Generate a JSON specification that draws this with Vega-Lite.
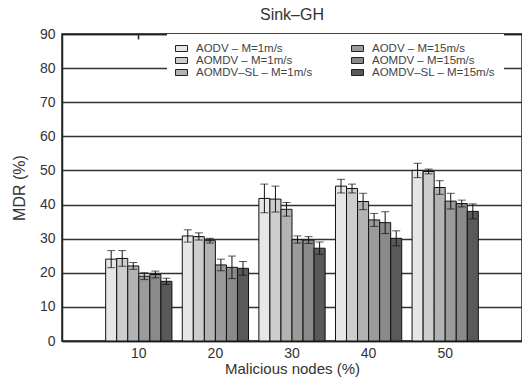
{
  "$schema": "https://vega.github.io/schema/vega-lite/v6.json",
  "width": 460,
  "height": 307,
  "autosize": {"type": "none"},
  "padding": {"left": 62, "top": 34, "right": 0, "bottom": 40},
  "title": {"text": "Sink–GH", "fontSize": 16, "font": "Liberation Sans", "fontWeight": "normal", "color": "#333", "offset": 7, "dy": 3, "anchor": "middle"},
  "config": {
    "font": "Liberation Sans",
    "view": {"stroke": "#222", "strokeWidth": 1.5},
    "axisY": {"labelOverlap": false, "grid": true, "gridColor": "#333", "gridWidth": 1.3, "domainColor": "#222", "domainWidth": 1.5, "ticks": false, "labelFontSize": 14, "labelColor": "#333", "labelPadding": 7, "titleFontSize": 16, "titleFontWeight": "normal", "titleColor": "#333", "titlePadding": 12}
  },
  "data": {"values": [
    {"nodes": "10", "series": "AODV – M=1m/s", "mdr": 24.0, "lo": 21.5, "hi": 26.5},
    {"nodes": "10", "series": "AOMDV – M=1m/s", "mdr": 24.2, "lo": 21.9, "hi": 26.5},
    {"nodes": "10", "series": "AOMDV–SL – M=1m/s", "mdr": 22.0, "lo": 21.0, "hi": 23.0},
    {"nodes": "10", "series": "AODV – M=15m/s", "mdr": 19.0, "lo": 18.0, "hi": 20.0},
    {"nodes": "10", "series": "AOMDV – M=15m/s", "mdr": 19.5, "lo": 18.5, "hi": 20.5},
    {"nodes": "10", "series": "AOMDV–SL – M=15m/s", "mdr": 17.5, "lo": 16.6, "hi": 18.4},
    {"nodes": "20", "series": "AODV – M=1m/s", "mdr": 30.8, "lo": 29.0, "hi": 32.6},
    {"nodes": "20", "series": "AOMDV – M=1m/s", "mdr": 30.6, "lo": 29.6, "hi": 31.7},
    {"nodes": "20", "series": "AOMDV–SL – M=1m/s", "mdr": 29.4, "lo": 28.7, "hi": 30.1},
    {"nodes": "20", "series": "AODV – M=15m/s", "mdr": 22.3, "lo": 20.6, "hi": 24.0},
    {"nodes": "20", "series": "AOMDV – M=15m/s", "mdr": 21.6, "lo": 18.3, "hi": 24.9},
    {"nodes": "20", "series": "AOMDV–SL – M=15m/s", "mdr": 21.3, "lo": 19.3, "hi": 23.3},
    {"nodes": "30", "series": "AODV – M=1m/s", "mdr": 41.8, "lo": 37.6, "hi": 46.0},
    {"nodes": "30", "series": "AOMDV – M=1m/s", "mdr": 41.6, "lo": 37.8, "hi": 45.4},
    {"nodes": "30", "series": "AOMDV–SL – M=1m/s", "mdr": 38.6, "lo": 36.6, "hi": 40.6},
    {"nodes": "30", "series": "AODV – M=15m/s", "mdr": 29.7, "lo": 28.7, "hi": 30.8},
    {"nodes": "30", "series": "AOMDV – M=15m/s", "mdr": 29.6, "lo": 28.6, "hi": 30.6},
    {"nodes": "30", "series": "AOMDV–SL – M=15m/s", "mdr": 27.2, "lo": 25.4, "hi": 29.0},
    {"nodes": "40", "series": "AODV – M=1m/s", "mdr": 45.4, "lo": 43.4, "hi": 47.4},
    {"nodes": "40", "series": "AOMDV – M=1m/s", "mdr": 44.7, "lo": 43.4, "hi": 46.0},
    {"nodes": "40", "series": "AOMDV–SL – M=1m/s", "mdr": 40.9, "lo": 38.5, "hi": 43.3},
    {"nodes": "40", "series": "AODV – M=15m/s", "mdr": 35.5, "lo": 33.6, "hi": 37.4},
    {"nodes": "40", "series": "AOMDV – M=15m/s", "mdr": 34.7, "lo": 31.5, "hi": 37.9},
    {"nodes": "40", "series": "AOMDV–SL – M=15m/s", "mdr": 30.1, "lo": 27.9, "hi": 32.3},
    {"nodes": "50", "series": "AODV – M=1m/s", "mdr": 50.0, "lo": 47.9, "hi": 52.1},
    {"nodes": "50", "series": "AOMDV – M=1m/s", "mdr": 49.7, "lo": 49.0, "hi": 50.4},
    {"nodes": "50", "series": "AOMDV–SL – M=1m/s", "mdr": 45.0, "lo": 43.0, "hi": 47.0},
    {"nodes": "50", "series": "AODV – M=15m/s", "mdr": 41.0, "lo": 38.7, "hi": 43.3},
    {"nodes": "50", "series": "AOMDV – M=15m/s", "mdr": 40.3, "lo": 39.3, "hi": 41.3},
    {"nodes": "50", "series": "AOMDV–SL – M=15m/s", "mdr": 38.0, "lo": 35.8, "hi": 40.2}
  ]},
  "resolve": {"axis": {"x": "independent"}},
  "layer": [
    {
      "mark": {"type": "bar", "stroke": "#111", "strokeWidth": 1},
      "encoding": {
        "x": {
          "field": "nodes", "type": "ordinal",
          "scale": {"paddingInner": 0.135, "paddingOuter": 0.57},
          "axis": {"orient": "bottom", "title": "Malicious nodes (%)", "labelAngle": 0, "ticks": false, "labelFontSize": 14, "labelColor": "#333", "labelPadding": 5, "titleFontSize": 15, "titleFontWeight": "normal", "titleColor": "#333", "titlePadding": 1, "domainColor": "#222", "domainWidth": 1.5, "grid": false}
        },
        "xOffset": {
          "field": "series", "type": "nominal",
          "scale": {"domain": ["AODV – M=1m/s", "AOMDV – M=1m/s", "AOMDV–SL – M=1m/s", "AODV – M=15m/s", "AOMDV – M=15m/s", "AOMDV–SL – M=15m/s"], "paddingInner": 0, "paddingOuter": 0}
        },
        "y": {
          "field": "mdr", "type": "quantitative",
          "scale": {"domain": [0, 90]},
          "axis": {"values": [0, 10, 20, 30, 40, 50, 60, 70, 80, 90], "title": "MDR (%)"}
        },
        "color": {
          "field": "series", "type": "nominal",
          "scale": {
            "domain": ["AODV – M=1m/s", "AOMDV – M=1m/s", "AOMDV–SL – M=1m/s", "AODV – M=15m/s", "AOMDV – M=15m/s", "AOMDV–SL – M=15m/s"],
            "range": ["#e6e6e6", "#cdcdcd", "#b3b3b3", "#9b9b9b", "#8a8a8a", "#595959"]
          },
          "legend": {"orient": "none", "legendX": 105, "legendY": 0, "columns": 2, "direction": "vertical", "columnPadding": 36, "rowPadding": 0, "padding": 8, "fillColor": "white", "title": null, "labelFontSize": 11.5, "labelColor": "#444", "labelOffset": 8, "symbolType": "M-1,-0.5H1V0.5H-1Z", "symbolSize": 144, "symbolStrokeColor": "#222", "symbolStrokeWidth": 1, "symbolOpacity": 1}
        }
      }
    },
    {
      "mark": {"type": "rule", "color": "#111", "strokeWidth": 1},
      "encoding": {
        "x": {"field": "nodes", "type": "ordinal", "axis": {"orient": "top", "labels": false, "title": null, "ticks": true, "tickSize": -5, "tickColor": "#222", "tickWidth": 1.5, "domainColor": "#222", "domainWidth": 1.5, "grid": false}},
        "xOffset": {"field": "series", "type": "nominal"},
        "y": {"field": "lo", "type": "quantitative", "axis": {"values": [0, 10, 20, 30, 40, 50, 60, 70, 80, 90], "title": "MDR (%)"}},
        "y2": {"field": "hi"}
      }
    },
    {
      "mark": {"type": "tick", "color": "#111", "size": 8, "thickness": 1},
      "encoding": {
        "x": {"field": "nodes", "type": "ordinal", "axis": null},
        "xOffset": {"field": "series", "type": "nominal"},
        "y": {"field": "lo", "type": "quantitative", "axis": {"values": [0, 10, 20, 30, 40, 50, 60, 70, 80, 90], "title": "MDR (%)"}}
      }
    },
    {
      "mark": {"type": "tick", "color": "#111", "size": 8, "thickness": 1},
      "encoding": {
        "x": {"field": "nodes", "type": "ordinal", "axis": null},
        "xOffset": {"field": "series", "type": "nominal"},
        "y": {"field": "hi", "type": "quantitative", "axis": {"values": [0, 10, 20, 30, 40, 50, 60, 70, 80, 90], "title": "MDR (%)"}}
      }
    }
  ]
}
